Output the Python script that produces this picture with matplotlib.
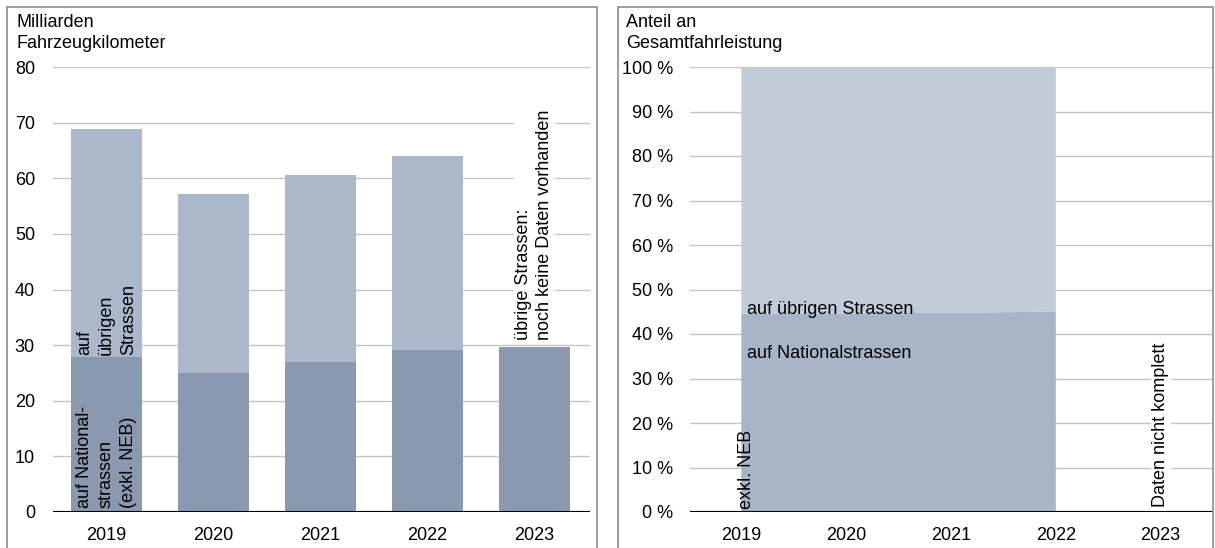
import matplotlib.pyplot as plt
from matplotlib.patches import Rectangle

plt.rcParams['font.family'] = ['Liberation Sans', 'DejaVu Sans']

years = ['2019', '2020', '2021', '2022', '2023']
national = [27.8, 24.9, 26.9, 29.2, 29.6]
total = [68.9, 57.2, 60.6, 64.0, None]
other = [t - n if t is not None else 0 for t, n in zip(total, national)]

share_years = [0, 1, 2, 3]
share_national = [44.6, 44.6, 44.8, 45.0]
share_other = [100 - s for s in share_national]

c_nat = '#8a98b0'
c_oth = '#abb8cb'
c_nat2 = '#a8b5c9'
c_oth2 = '#c2ccd9'
grid_c = '#c4c4c4'
fs = 13
ls = 1.3

fig = plt.figure(figsize=(12.15, 5.48), dpi=100)

# panel frames
for x0, x1 in [(7, 597), (618, 1213)]:
    fig.patches.append(Rectangle((x0 / 1215, -0.01), (x1 - x0) / 1215, 1 - 7 / 548 + 0.01,
                                 transform=fig.transFigure, fill=False,
                                 edgecolor='#8c8c8c', lw=1.2))

# left chart
ax = fig.add_axes([53 / 1215, 1 - 512 / 548, (590 - 53) / 1215, (512 - 67) / 548])
x = range(len(years))
ax.bar(x, national, width=0.66, color=c_nat, zorder=2)
ax.bar(x, other, width=0.66, bottom=national, color=c_oth, zorder=2)
ax.set_xlim(-0.5, 4.52)
ax.set_ylim(0, 80)
ax.set_yticks(range(0, 81, 10))
ax.set_xticks(list(x))
ax.set_xticklabels(years)
ax.grid(axis='y', color=grid_c, lw=1, zorder=0)
ax.axhline(0, color='black', lw=1.5, zorder=3)
for s in ax.spines.values():
    s.set_visible(False)
ax.tick_params(length=0, labelsize=fs)
ax.tick_params(axis='y', pad=13)
ax.tick_params(axis='x', pad=11)
ax.text(0, 0.8, 'auf National-\nstrassen\n(exkl. NEB)', rotation=90, ha='center', va='bottom',
        fontsize=fs, multialignment='left', linespacing=1.4, zorder=4)
ax.text(0, 28.3, 'auf\nübrigen\nStrassen', rotation=90, ha='center', va='bottom',
        fontsize=fs, multialignment='left', linespacing=1.4, zorder=4)
ax.text(4, 31, 'übrige Strassen:\nnoch keine Daten vorhanden', rotation=90, ha='center',
        va='bottom', fontsize=fs, multialignment='left', linespacing=ls, zorder=4,
        bbox=dict(facecolor='white', edgecolor='none', pad=1))
fig.text(17 / 1215, 1 - 14 / 548, 'Milliarden\nFahrzeugkilometer', ha='left', va='top',
         fontsize=fs, linespacing=ls)

# right chart
ax2 = fig.add_axes([690 / 1215, 1 - 512 / 548, (1213 - 690) / 1215, (512 - 67) / 548])
ax2.stackplot(share_years, share_national, share_other, colors=[c_nat2, c_oth2], zorder=2)
ax2.set_xlim(-0.49, 4.5)
ax2.set_ylim(0, 100)
ax2.set_yticks(range(0, 101, 10))
ax2.set_yticklabels([f'{v} %' for v in range(0, 101, 10)])
ax2.set_xticks(range(len(years)))
ax2.set_xticklabels(years)
ax2.grid(axis='y', color=grid_c, lw=1, zorder=0)
ax2.axhline(0, color='black', lw=1.5, zorder=3)
for s in ax2.spines.values():
    s.set_visible(False)
ax2.tick_params(length=0, labelsize=fs)
ax2.tick_params(axis='y', pad=12)
ax2.tick_params(axis='x', pad=11)
ax2.text(0.05, 45.6, 'auf übrigen Strassen', ha='left', va='center', fontsize=fs, zorder=4)
ax2.text(0.05, 35.6, 'auf Nationalstrassen', ha='left', va='center', fontsize=fs, zorder=4)
ax2.text(0.05, 0.6, 'exkl. NEB', rotation=90, ha='center', va='bottom', fontsize=fs, zorder=4)
ax2.text(4, 1.2, 'Daten nicht komplett', rotation=90, ha='center', va='bottom', fontsize=fs,
         zorder=4, bbox=dict(facecolor='white', edgecolor='none', pad=1))
fig.text(626 / 1215, 1 - 14 / 548, 'Anteil an\nGesamtfahrleistung', ha='left', va='top',
         fontsize=fs, linespacing=ls)

fig.savefig('out.png', dpi=100)
